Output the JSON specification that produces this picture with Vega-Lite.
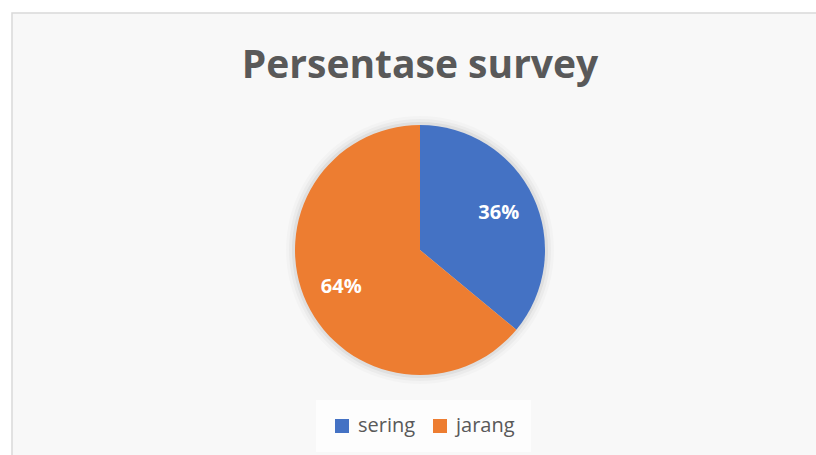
{
  "$schema": "https://vega.github.io/schema/vega-lite/v6.json",
  "autosize": {"type": "none"},
  "padding": {"left": 12, "top": 13, "right": 0, "bottom": 0},
  "width": 816,
  "height": 474,
  "background": "white",
  "view": {"fill": "#f8f8f8", "stroke": "#d9d9d9", "strokeWidth": 1.5},
  "config": {
    "view": {"fill": "#f8f8f8", "stroke": "#d9d9d9", "strokeWidth": 1.5},
    "font": "Open Sans"
  },
  "title": {
    "text": "Persentase survey",
    "anchor": "middle",
    "frame": "group",
    "fontSize": 39,
    "font": "Open Sans",
    "fontWeight": "bold",
    "color": "#595959",
    "baseline": "alphabetic",
    "offset": 0,
    "dy": 104
  },
  "data": {
    "values": [
      {"kategori": "sering", "persen": 36, "label": "36%"},
      {"kategori": "jarang", "persen": 64, "label": "64%"}
    ]
  },
  "encoding": {
    "theta": {"field": "persen", "type": "quantitative", "stack": true},
    "order": {"field": "persen", "type": "quantitative", "sort": "ascending"}
  },
  "layer": [
    {"mark": {"type": "arc", "radius": 134, "fill": "#000000", "opacity": 0.02}},
    {"mark": {"type": "arc", "radius": 131, "fill": "#000000", "opacity": 0.03}},
    {"mark": {"type": "arc", "radius": 128, "fill": "#000000", "opacity": 0.05}},
    {
      "mark": {"type": "arc", "radius": 125},
      "encoding": {
        "color": {
          "field": "kategori",
          "type": "nominal",
          "scale": {"domain": ["sering", "jarang"], "range": ["#4472C4", "#ED7D31"]},
          "legend": {
            "title": null,
            "orient": "none",
            "direction": "horizontal",
            "legendX": 304,
            "legendY": 387,
            "symbolType": "square",
            "symbolSize": 196,
            "symbolStrokeWidth": 0,
            "labelFontSize": 20,
            "labelFont": "Open Sans",
            "labelColor": "#595959",
            "labelOffset": 6,
            "columnPadding": 14,
            "padding": 16,
            "fillColor": "#fdfdfd"
          }
        }
      }
    },
    {
      "mark": {"type": "text", "radius": 87, "fontSize": 20, "fontWeight": "bold", "font": "Open Sans", "fill": "white"},
      "encoding": {"text": {"field": "label", "type": "nominal"}}
    }
  ]
}
